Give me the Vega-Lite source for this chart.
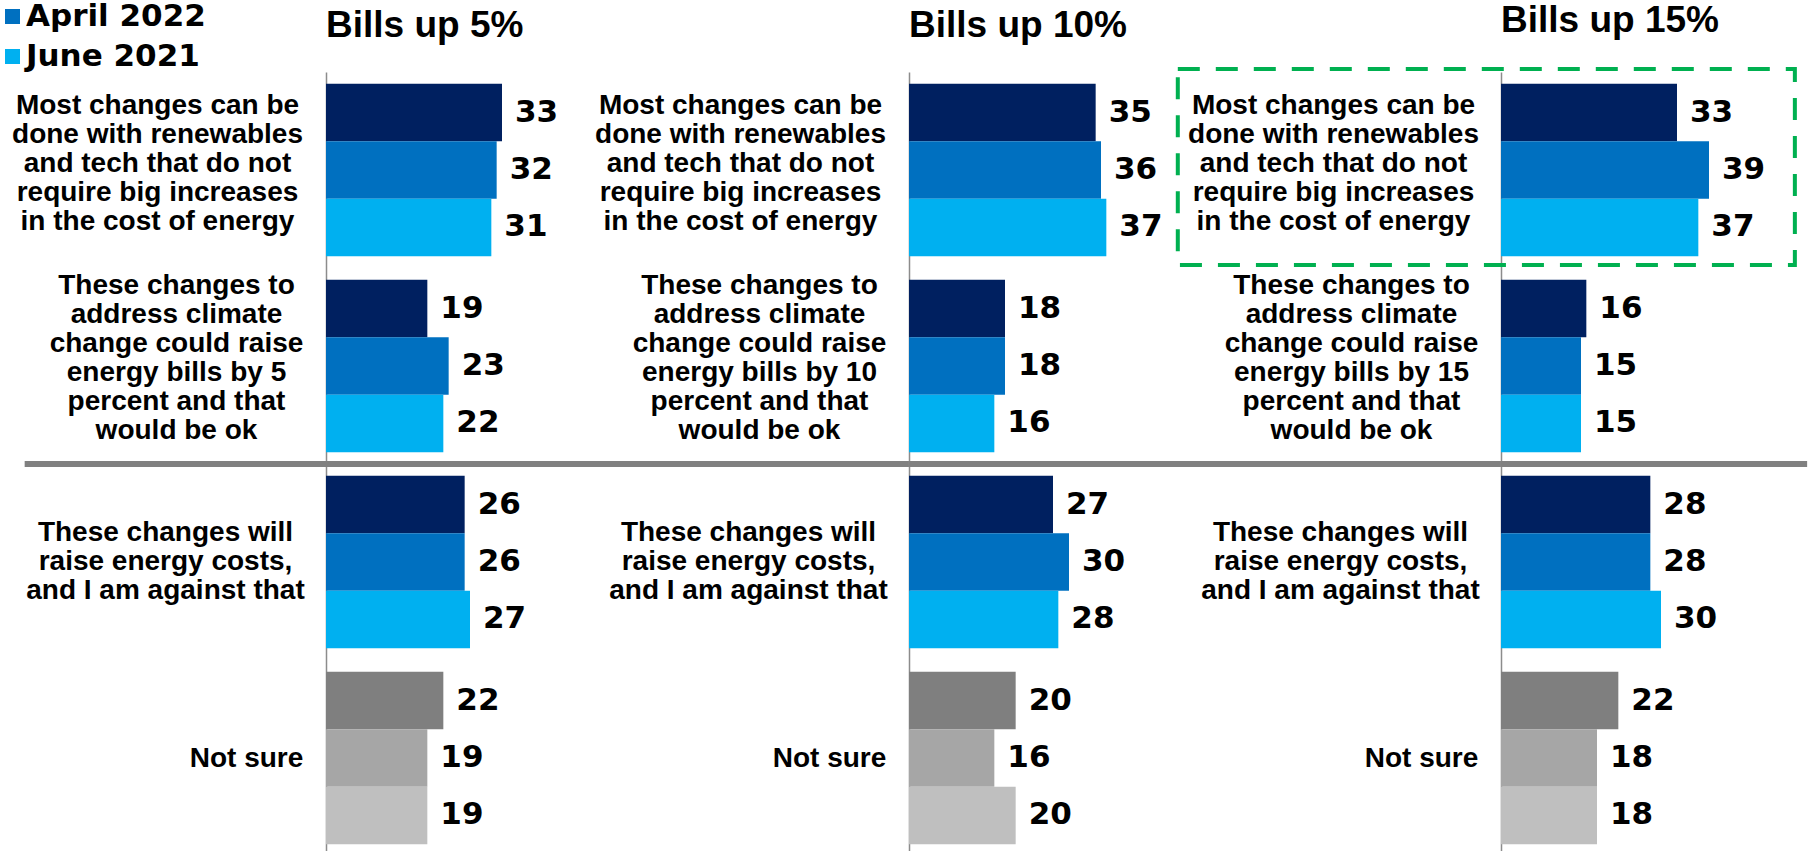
{
  "$schema": "https://vega.github.io/schema/vega-lite/v6.json",
  "autosize": {"type": "none"},
  "padding": {"left": 326, "top": 72, "right": 1488, "bottom": 779},
  "background": "white",
  "datasets": {
    "survey": [
      {"panel": "5%", "cat": "Most changes can be|done with renewables|and tech that do not|require big increases|in the cost of energy", "wave": "Latest wave", "value": 33},
      {"panel": "5%", "cat": "Most changes can be|done with renewables|and tech that do not|require big increases|in the cost of energy", "wave": "April 2022", "value": 32},
      {"panel": "5%", "cat": "Most changes can be|done with renewables|and tech that do not|require big increases|in the cost of energy", "wave": "June 2021", "value": 31},
      {"panel": "5%", "cat": "These changes to|address climate|change could raise|energy bills by 5|percent and that|would be ok", "wave": "Latest wave", "value": 19},
      {"panel": "5%", "cat": "These changes to|address climate|change could raise|energy bills by 5|percent and that|would be ok", "wave": "April 2022", "value": 23},
      {"panel": "5%", "cat": "These changes to|address climate|change could raise|energy bills by 5|percent and that|would be ok", "wave": "June 2021", "value": 22},
      {"panel": "5%", "cat": "These changes will|raise energy costs,|and I am against that", "wave": "Latest wave", "value": 26},
      {"panel": "5%", "cat": "These changes will|raise energy costs,|and I am against that", "wave": "April 2022", "value": 26},
      {"panel": "5%", "cat": "These changes will|raise energy costs,|and I am against that", "wave": "June 2021", "value": 27},
      {"panel": "5%", "cat": "Not sure", "wave": "Latest wave", "value": 22},
      {"panel": "5%", "cat": "Not sure", "wave": "April 2022", "value": 19},
      {"panel": "5%", "cat": "Not sure", "wave": "June 2021", "value": 19},
      {"panel": "10%", "cat": "Most changes can be|done with renewables|and tech that do not|require big increases|in the cost of energy", "wave": "Latest wave", "value": 35},
      {"panel": "10%", "cat": "Most changes can be|done with renewables|and tech that do not|require big increases|in the cost of energy", "wave": "April 2022", "value": 36},
      {"panel": "10%", "cat": "Most changes can be|done with renewables|and tech that do not|require big increases|in the cost of energy", "wave": "June 2021", "value": 37},
      {"panel": "10%", "cat": "These changes to|address climate|change could raise|energy bills by 10|percent and that|would be ok", "wave": "Latest wave", "value": 18},
      {"panel": "10%", "cat": "These changes to|address climate|change could raise|energy bills by 10|percent and that|would be ok", "wave": "April 2022", "value": 18},
      {"panel": "10%", "cat": "These changes to|address climate|change could raise|energy bills by 10|percent and that|would be ok", "wave": "June 2021", "value": 16},
      {"panel": "10%", "cat": "These changes will|raise energy costs,|and I am against that", "wave": "Latest wave", "value": 27},
      {"panel": "10%", "cat": "These changes will|raise energy costs,|and I am against that", "wave": "April 2022", "value": 30},
      {"panel": "10%", "cat": "These changes will|raise energy costs,|and I am against that", "wave": "June 2021", "value": 28},
      {"panel": "10%", "cat": "Not sure", "wave": "Latest wave", "value": 20},
      {"panel": "10%", "cat": "Not sure", "wave": "April 2022", "value": 16},
      {"panel": "10%", "cat": "Not sure", "wave": "June 2021", "value": 20},
      {"panel": "15%", "cat": "Most changes can be|done with renewables|and tech that do not|require big increases|in the cost of energy", "wave": "Latest wave", "value": 33},
      {"panel": "15%", "cat": "Most changes can be|done with renewables|and tech that do not|require big increases|in the cost of energy", "wave": "April 2022", "value": 39},
      {"panel": "15%", "cat": "Most changes can be|done with renewables|and tech that do not|require big increases|in the cost of energy", "wave": "June 2021", "value": 37},
      {"panel": "15%", "cat": "These changes to|address climate|change could raise|energy bills by 15|percent and that|would be ok", "wave": "Latest wave", "value": 16},
      {"panel": "15%", "cat": "These changes to|address climate|change could raise|energy bills by 15|percent and that|would be ok", "wave": "April 2022", "value": 15},
      {"panel": "15%", "cat": "These changes to|address climate|change could raise|energy bills by 15|percent and that|would be ok", "wave": "June 2021", "value": 15},
      {"panel": "15%", "cat": "These changes will|raise energy costs,|and I am against that", "wave": "Latest wave", "value": 28},
      {"panel": "15%", "cat": "These changes will|raise energy costs,|and I am against that", "wave": "April 2022", "value": 28},
      {"panel": "15%", "cat": "These changes will|raise energy costs,|and I am against that", "wave": "June 2021", "value": 30},
      {"panel": "15%", "cat": "Not sure", "wave": "Latest wave", "value": 22},
      {"panel": "15%", "cat": "Not sure", "wave": "April 2022", "value": 18},
      {"panel": "15%", "cat": "Not sure", "wave": "June 2021", "value": 18}
    ]
  },
  "data": {"name": "survey"},
  "spacing": 0,
  "bounds": "flush",
  "resolve": {"scale": {"color": "shared", "fill": "shared"}, "legend": {"color": "shared"}},
  "hconcat": [
    {
      "width": 583, "height": 784,
      "title": {"text": "Bills up 5%"},
      "layer": [
        {
          "layer": [
            {
              "transform": [{"filter": "datum.panel == '5%' && datum.cat != 'Not sure'"}],
              "mark": {"type": "bar"},
              "encoding": {
                "y": {"field": "cat", "type": "nominal",
                  "scale": {"domain": ["Most changes can be|done with renewables|and tech that do not|require big increases|in the cost of energy", "These changes to|address climate|change could raise|energy bills by 5|percent and that|would be ok", "These changes will|raise energy costs,|and I am against that", "Not sure"], "paddingInner": 0.12, "paddingOuter": 0.06},
                  "axis": {"labelExpr": "split(datum.label, '|')",
                    "labelPadding": {"condition": [{"test": "indexof(datum.value, 'Most') == 0", "value": 169}, {"test": "indexof(datum.value, 'These changes to') == 0", "value": 150}, {"test": "indexof(datum.value, 'These changes will') == 0", "value": 161}], "value": 80},
                    "labelOffset": {"condition": [{"test": "indexof(datum.value, 'Most') == 0", "value": -64}, {"test": "indexof(datum.value, 'These changes to') == 0", "value": -80}, {"test": "indexof(datum.value, 'These changes will') == 0", "value": -29}], "value": 1}}},
                "yOffset": {"field": "wave", "type": "nominal", "scale": {"domain": ["Latest wave", "April 2022", "June 2021"], "paddingInner": 0, "paddingOuter": 0}},
                "x": {"field": "value", "type": "quantitative", "scale": {"domain": [0, 109.3125], "nice": false, "zero": true}, "axis": null},
                "color": {"field": "wave", "type": "nominal",
                  "scale": {"domain": ["Latest wave", "April 2022", "June 2021"], "range": ["#002060", "#0070C0", "#00B0F0"]},
                  "legend": {"values": ["April 2022", "June 2021"], "orient": "none", "legendX": -329, "legendY": -71, "title": null, "symbolType": "square", "symbolSize": 225, "symbolStrokeWidth": 0, "labelFont": "DejaVu Sans", "labelFontWeight": "bold", "labelFontSize": 31, "labelColor": "#000000", "labelOffset": -2, "labelLimit": 500, "rowPadding": 8, "padding": 0}}
              }
            },
            {
              "transform": [{"filter": "datum.panel == '5%' && datum.cat == 'Not sure'"}],
              "mark": {"type": "bar"},
              "encoding": {
                "y": {"field": "cat", "type": "nominal"},
                "yOffset": {"field": "wave", "type": "nominal"},
                "x": {"field": "value", "type": "quantitative"},
                "fill": {"field": "wave", "type": "nominal", "scale": {"domain": ["Latest wave", "April 2022", "June 2021"], "range": ["#7F7F7F", "#A6A6A6", "#BFBFBF"]}, "legend": null}
              }
            },
            {
              "transform": [{"filter": "datum.panel == '5%'"}],
              "mark": {"type": "text", "align": "left", "baseline": "middle", "dx": 13, "font": "DejaVu Sans", "fontWeight": "bold", "fontSize": 31, "fill": "#000000"},
              "encoding": {
                "y": {"field": "cat", "type": "nominal"},
                "yOffset": {"field": "wave", "type": "nominal"},
                "x": {"field": "value", "type": "quantitative"},
                "text": {"field": "value", "type": "quantitative"}
              }
            }
          ]
        },
        {
          "data": {"values": [{}]},
          "mark": {"type": "rule", "color": "#808080", "strokeWidth": 6},
          "encoding": {
            "y": {"datum": "These changes will|raise energy costs,|and I am against that", "type": "nominal", "bandPosition": 0,
              "scale": {"type": "band", "domain": ["Most changes can be|done with renewables|and tech that do not|require big increases|in the cost of energy", "These changes to|address climate|change could raise|energy bills by 5|percent and that|would be ok", "These changes will|raise energy costs,|and I am against that", "Not sure"], "paddingInner": 0, "paddingOuter": 0}, "axis": null},
            "x": {"datum": -56.5, "type": "quantitative"},
            "x2": {"datum": 109.3125}
          }
        }
      ],
      "resolve": {"scale": {"y": "independent"}}
    },
    {
      "width": 592, "height": 784,
      "title": {"text": "Bills up 10%"},
      "layer": [
        {
          "layer": [
            {
              "transform": [{"filter": "datum.panel == '10%' && datum.cat != 'Not sure'"}],
              "mark": {"type": "bar"},
              "encoding": {
                "y": {"field": "cat", "type": "nominal",
                  "scale": {"domain": ["Most changes can be|done with renewables|and tech that do not|require big increases|in the cost of energy", "These changes to|address climate|change could raise|energy bills by 10|percent and that|would be ok", "These changes will|raise energy costs,|and I am against that", "Not sure"], "paddingInner": 0.12, "paddingOuter": 0.06},
                  "axis": {"labelExpr": "split(datum.label, '|')",
                    "labelPadding": {"condition": [{"test": "indexof(datum.value, 'Most') == 0", "value": 169}, {"test": "indexof(datum.value, 'These changes to') == 0", "value": 150}, {"test": "indexof(datum.value, 'These changes will') == 0", "value": 161}], "value": 80},
                    "labelOffset": {"condition": [{"test": "indexof(datum.value, 'Most') == 0", "value": -64}, {"test": "indexof(datum.value, 'These changes to') == 0", "value": -80}, {"test": "indexof(datum.value, 'These changes will') == 0", "value": -29}], "value": 1}}},
                "yOffset": {"field": "wave", "type": "nominal", "scale": {"domain": ["Latest wave", "April 2022", "June 2021"], "paddingInner": 0, "paddingOuter": 0}},
                "x": {"field": "value", "type": "quantitative", "scale": {"domain": [0, 111], "nice": false, "zero": true}, "axis": null},
                "color": {"field": "wave", "type": "nominal"}
              }
            },
            {
              "transform": [{"filter": "datum.panel == '10%' && datum.cat == 'Not sure'"}],
              "mark": {"type": "bar"},
              "encoding": {
                "y": {"field": "cat", "type": "nominal"},
                "yOffset": {"field": "wave", "type": "nominal"},
                "x": {"field": "value", "type": "quantitative"},
                "fill": {"field": "wave", "type": "nominal", "legend": null}
              }
            },
            {
              "transform": [{"filter": "datum.panel == '10%'"}],
              "mark": {"type": "text", "align": "left", "baseline": "middle", "dx": 13, "font": "DejaVu Sans", "fontWeight": "bold", "fontSize": 31, "fill": "#000000"},
              "encoding": {
                "y": {"field": "cat", "type": "nominal"},
                "yOffset": {"field": "wave", "type": "nominal"},
                "x": {"field": "value", "type": "quantitative"},
                "text": {"field": "value", "type": "quantitative"}
              }
            }
          ]
        },
        {
          "data": {"values": [{}]},
          "mark": {"type": "rule", "color": "#808080", "strokeWidth": 6},
          "encoding": {
            "y": {"datum": "These changes will|raise energy costs,|and I am against that", "type": "nominal", "bandPosition": 0,
              "scale": {"type": "band", "domain": ["Most changes can be|done with renewables|and tech that do not|require big increases|in the cost of energy", "These changes to|address climate|change could raise|energy bills by 10|percent and that|would be ok", "These changes will|raise energy costs,|and I am against that", "Not sure"], "paddingInner": 0, "paddingOuter": 0}, "axis": null},
            "x": {"datum": 0, "type": "quantitative"},
            "x2": {"datum": 111}
          }
        }
      ],
      "resolve": {"scale": {"y": "independent"}}
    },
    {
      "width": 309, "height": 784,
      "title": {"text": "Bills up 15%"},
      "layer": [
        {
          "layer": [
            {
              "transform": [{"filter": "datum.panel == '15%' && datum.cat != 'Not sure'"}],
              "mark": {"type": "bar"},
              "encoding": {
                "y": {"field": "cat", "type": "nominal",
                  "scale": {"domain": ["Most changes can be|done with renewables|and tech that do not|require big increases|in the cost of energy", "These changes to|address climate|change could raise|energy bills by 15|percent and that|would be ok", "These changes will|raise energy costs,|and I am against that", "Not sure"], "paddingInner": 0.12, "paddingOuter": 0.06},
                  "axis": {"labelExpr": "split(datum.label, '|')",
                    "labelPadding": {"condition": [{"test": "indexof(datum.value, 'Most') == 0", "value": 168}, {"test": "indexof(datum.value, 'These changes to') == 0", "value": 150}, {"test": "indexof(datum.value, 'These changes will') == 0", "value": 161}], "value": 80},
                    "labelOffset": {"condition": [{"test": "indexof(datum.value, 'Most') == 0", "value": -64}, {"test": "indexof(datum.value, 'These changes to') == 0", "value": -80}, {"test": "indexof(datum.value, 'These changes will') == 0", "value": -29}], "value": 1}}},
                "yOffset": {"field": "wave", "type": "nominal", "scale": {"domain": ["Latest wave", "April 2022", "June 2021"], "paddingInner": 0, "paddingOuter": 0}},
                "x": {"field": "value", "type": "quantitative", "scale": {"domain": [0, 57.9375], "nice": false, "zero": true}, "axis": null},
                "color": {"field": "wave", "type": "nominal"}
              }
            },
            {
              "transform": [{"filter": "datum.panel == '15%' && datum.cat == 'Not sure'"}],
              "mark": {"type": "bar"},
              "encoding": {
                "y": {"field": "cat", "type": "nominal"},
                "yOffset": {"field": "wave", "type": "nominal"},
                "x": {"field": "value", "type": "quantitative"},
                "fill": {"field": "wave", "type": "nominal", "legend": null}
              }
            },
            {
              "transform": [{"filter": "datum.panel == '15%'"}],
              "mark": {"type": "text", "align": "left", "baseline": "middle", "dx": 13, "font": "DejaVu Sans", "fontWeight": "bold", "fontSize": 31, "fill": "#000000"},
              "encoding": {
                "y": {"field": "cat", "type": "nominal"},
                "yOffset": {"field": "wave", "type": "nominal"},
                "x": {"field": "value", "type": "quantitative"},
                "text": {"field": "value", "type": "quantitative"}
              }
            }
          ]
        },
        {
          "data": {"values": [{}]},
          "layer": [
            {
              "mark": {"type": "rule", "color": "#808080", "strokeWidth": 6},
              "encoding": {
                "y": {"datum": "These changes will|raise energy costs,|and I am against that", "type": "nominal", "bandPosition": 0,
                  "scale": {"type": "band", "domain": ["Most changes can be|done with renewables|and tech that do not|require big increases|in the cost of energy", "These changes to|address climate|change could raise|energy bills by 15|percent and that|would be ok", "These changes will|raise energy costs,|and I am against that", "Not sure"], "paddingInner": 0, "paddingOuter": 0}, "axis": null},
                "x": {"datum": 0, "type": "quantitative"},
                "x2": {"datum": 57.4}
              }
            },
            {
              "mark": {"type": "rect", "fill": null, "stroke": "#00B050", "strokeWidth": 4, "strokeDash": [22, 16], "yOffset": -3, "y2Offset": -3},
              "encoding": {
                "y": {"datum": "Most changes can be|done with renewables|and tech that do not|require big increases|in the cost of energy", "type": "nominal"},
                "x": {"datum": -60.6, "type": "quantitative"},
                "x2": {"datum": 55.1}
              }
            }
          ]
        }
      ],
      "resolve": {"scale": {"y": "independent"}}
    }
  ],
  "config": {
    "view": {"stroke": null},
    "font": "Liberation Sans",
    "title": {"font": "Liberation Sans", "fontSize": 37, "fontWeight": "bold", "color": "#000000", "anchor": "start", "frame": "group", "baseline": "alphabetic", "offset": 27},
    "axisY": {"labelFont": "Liberation Sans", "labelFontWeight": "bold", "labelFontSize": 28, "labelColor": "#000000", "labelLineHeight": 29, "labelAlign": "center", "labelBaseline": "middle", "labelLimit": 500, "labelOverlap": false, "labelBound": false, "ticks": false, "tickSize": 0, "domainColor": "#8C8C8C", "domainWidth": 1.5, "title": null, "grid": false}
  }
}
